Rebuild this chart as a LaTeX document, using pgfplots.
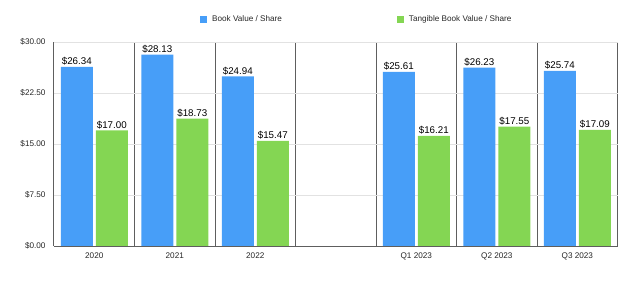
\documentclass[border=0pt]{standalone}
\usepackage{pgfplots}
\pgfplotsset{compat=1.18}
\usepackage{fontspec}
\setmainfont{Liberation Sans}
\definecolor{bblue}{HTML}{479EF8}
\definecolor{bgreen}{HTML}{84D653}
\definecolor{sep}{HTML}{5E5E5E}
\definecolor{gridc}{HTML}{E2E2E2}
\begin{document}
\begin{tikzpicture}
\begin{axis}[
  scale only axis, width=563.6bp, height=204bp,
  xmin=-0.5, xmax=6.5, ymin=0, ymax=30,
  ybar, bar width=32bp,
  ytick={0,7.5,15,22.5,30},
  xtick={0,1,2,4,5,6},
  xticklabels={2020,2021,2022,Q1 2023,Q2 2023,Q3 2023},
  minor xtick={-0.5,0.5,1.5,2.5,3.5,4.5,5.5,6.5},
  xminorgrids, minor x grid style={draw=sep, line width=1bp},
  ymajorgrids, major y grid style={draw=gridc, line width=1bp},
  extra y ticks={0}, extra y tick labels={},
  extra y tick style={major y grid style={draw=sep, line width=1bp}},
  axis line style={draw=none},
  major tick length=0pt, minor tick length=0pt,
  /pgf/number format/assume math mode=true,
  yticklabel={\$\pgfmathprintnumber[fixed,fixed zerofill,precision=2]{\tick}},
  tick label style={font=\fontsize{8.2}{9.8}\selectfont, text=black!85},
  yticklabel style={xshift=-5bp},
  xticklabel style={yshift=-3bp},
  nodes near coords={\$\pgfmathprintnumber[fixed,fixed zerofill,precision=2,assume math mode=true]{\pgfplotspointmeta}},
  every node near coord/.append style={font=\fontsize{9.8}{11}\selectfont, text=black, inner sep=1.5bp},
  legend columns=2,
  legend style={draw=none, fill=none, inner sep=0pt, at={(rel axis cs:0.259,1.112)}, anchor=west,
    font=\fontsize{8.2}{9.8}\selectfont, text=black!85,
    /tikz/every even column/.append style={column sep=113bp}},
  legend image code/.code={\fill[#1] (0bp,-3.4bp) rectangle (7.2bp,3.4bp); \path (10bp,0bp);},
]
\addplot[fill=bblue, draw=none, bar shift=-17.5bp] coordinates {(0,26.34) (1,28.13) (2,24.94) (4,25.61) (5,26.23) (6,25.74)};
\addplot[fill=bgreen, draw=none, bar shift=17.5bp] coordinates {(0,17.00) (1,18.73) (2,15.47) (4,16.21) (5,17.55) (6,17.09)};
\legend{Book Value / Share, Tangible Book Value / Share}
\coordinate (o) at (rel axis cs:0,0);
\end{axis}
\path ([shift={(-54bp,-40bp)}]o) rectangle ++(640bp,286bp);
\end{tikzpicture}
\end{document}
